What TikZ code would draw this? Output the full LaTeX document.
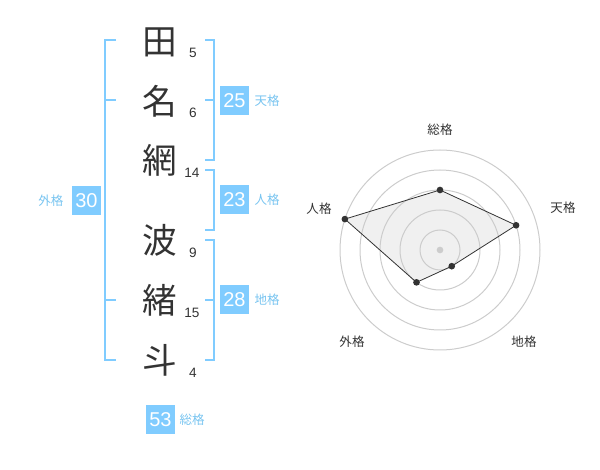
\documentclass[tikz,border=0pt]{standalone}
\usepackage{fontspec}
\setmainfont{Liberation Sans}
\newfontfamily\jp{Noto Sans CJK JP}
\definecolor{skyb}{RGB}{128,204,255}
\definecolor{lblb}{RGB}{120,196,240}
\definecolor{ink}{RGB}{51,51,51}
\definecolor{ring}{RGB}{204,204,204}
\definecolor{area}{RGB}{240,240,240}
\begin{document}
\begin{tikzpicture}[x=0.75pt,y=-0.75pt,
  kanji/.style={inner sep=0pt,text=ink,font=\jp\fontsize{26}{27}\selectfont},
  strokes/.style={inner sep=0pt,text=ink,font=\fontsize{10.2}{12}\selectfont},
  numbox/.style={fill=skyb,text=white,inner sep=0pt,minimum size=21.75pt,font=\fontsize{15}{16}\selectfont},
  kaku/.style={inner sep=0pt,anchor=west,text=lblb,font=\jp\fontsize{9.4}{10}\selectfont},
  bracket/.style={draw=skyb,line width=1.5pt},
  radlbl/.style={inner sep=0pt,text=ink,font=\jp\fontsize{9.4}{10}\selectfont},
  dot/.style={circle,fill=ink,inner sep=0pt,minimum size=5pt},
  ringline/.style={draw=ring,line width=0.75pt}]
\useasboundingbox (0,0) rectangle (600,470);
% name characters
\node[kanji] (k1) at (160,42) {田};
\node[kanji] (k2) at (160,101) {名};
\node[kanji] (k3) at (160,160) {網};
\node[kanji] (k4) at (160,240) {波};
\node[kanji] (k5) at (160,300) {緒};
\node[kanji] (k6) at (160,360) {斗};
% stroke counts
\node[strokes] (s1) at (193,53) {5};
\node[strokes] (s2) at (193,113) {6};
\node[strokes] (s3) at (192,173) {14};
\node[strokes] (s4) at (193,253) {9};
\node[strokes] (s5) at (192,313) {15};
\node[strokes] (s6) at (193,373) {4};
% brackets
\draw[bracket] (116,40) -- (105,40) -- (105,360) -- (116,360);
\draw[bracket] (105,100) -- (116,100);
\draw[bracket] (105,300) -- (116,300);
\draw[bracket] (205,40) -- (214,40) -- (214,160) -- (205,160);
\draw[bracket] (214,100) -- (205,100);
\draw[bracket] (205,170) -- (214,170) -- (214,230) -- (205,230);
\draw[bracket] (205,240) -- (214,240) -- (214,360) -- (205,360);
\draw[bracket] (214,300) -- (205,300);
% boxes
\node[numbox] (ten) at (234.5,100.5) {25};
\node[kaku] (tenl) at ([xshift=3.75pt]ten.east) {天格};
\node[numbox] (jin) at (234.5,200) {23};
\node[kaku] (jinl) at ([xshift=3.75pt]jin.east) {人格};
\node[numbox] (chi) at (234.5,300) {28};
\node[kaku] (chil) at ([xshift=3.75pt]chi.east) {地格};
\node[numbox] (gai) at (86.5,200.5) {30};
\node[kaku,anchor=east] (gail) at ([xshift=-6pt]gai.west) {外格};
\node[numbox] (sou) at (160.5,419.5) {53};
\node[kaku] (soul) at ([xshift=3pt]sou.east) {総格};
% radar chart
\begin{scope}[shift={(440,250)},y=0.75pt]
  \coordinate (a1) at (90:60);
  \coordinate (a2) at (18:80);
  \coordinate (a3) at (-54:20);
  \coordinate (a4) at (-126:40);
  \coordinate (a5) at (162:100);
  \fill[area] (a1) -- (a2) -- (a3) -- (a4) -- (a5) -- cycle;
  \foreach \r in {20,40,60,80,100} \draw[ringline] (0,0) circle[radius=\r];
  \node[circle,fill=ring,inner sep=0pt,minimum size=5pt] (c) at (0,0) {};
  \draw[ink,line width=0.6pt] (a1) -- (a2) -- (a3) -- (a4) -- (a5) -- cycle;
  \node[dot] (p1) at (a1) {};
  \node[dot] (p2) at (a2) {};
  \node[dot] (p3) at (a3) {};
  \node[dot] (p4) at (a4) {};
  \node[dot] (p5) at (a5) {};
  \node[radlbl] (l1) at (0,120) {総格};
  \node[radlbl] (l2) at (123,42) {天格};
  \node[radlbl] (l3) at (84,-92) {地格};
  \node[radlbl] (l4) at (-88,-92) {外格};
  \node[radlbl] (l5) at (-121,41) {人格};
\end{scope}
\end{tikzpicture}
\end{document}
